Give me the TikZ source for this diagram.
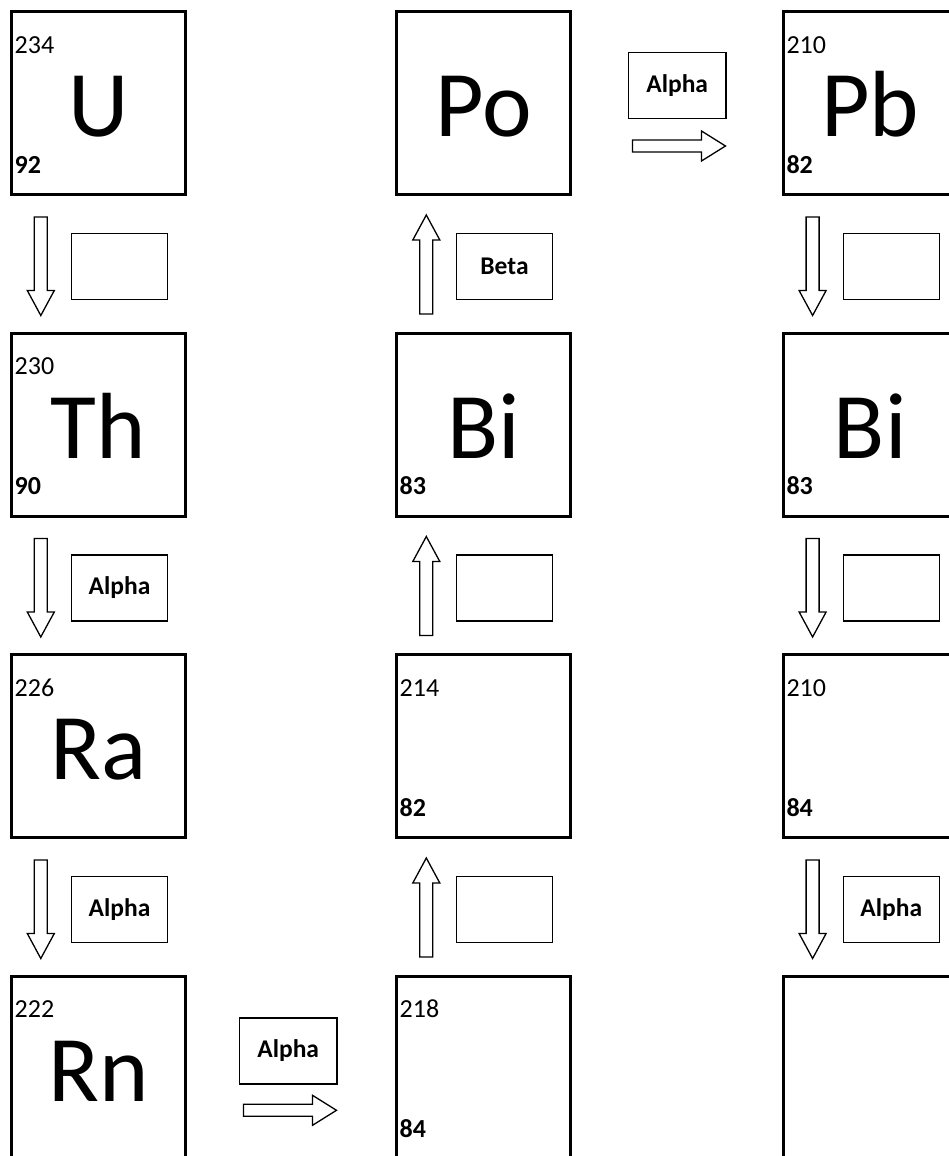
\documentclass[tikz,border=0pt]{standalone}
\usepackage{fontspec}
\setmainfont{Carlito}
\usetikzlibrary{calc}
\newcommand\dnarr[1]{\draw[blk] ($(#1.south west)+(22.8,22.5)$) -- ++(13,0) -- ++(0,73.5) -- ++(7,0) -- ++(-13.5,25) -- ++(-13.5,-25) -- ++(7,0) -- cycle;}
\newcommand\uparr[1]{\draw[blk] ($(#1.south west)+(23.3,119.5)$) -- ++(13,0) -- ++(0,-74) -- ++(7,0) -- ++(-13.5,-25) -- ++(-13.5,25) -- ++(7,0) -- cycle;}
\newcommand\rtarr[3]{\draw[blk] ($(#1.north east)+(#2,#3)$) -- ++(69,0) -- ++(0,-9) -- ++(24,15) -- ++(-24,15) -- ++(0,-9) -- ++(-69,0) -- cycle;}
\begin{document}
\begin{tikzpicture}[x=1pt,y=-1pt,
 elem/.style={draw, line width=3pt, minimum width=174pt, minimum height=183pt, inner sep=0pt, outer sep=0pt, anchor=north west},
 sym/.style={anchor=base, font=\fontsize{94}{100}\selectfont, inner sep=0pt},
 mass/.style={anchor=base west, font=\fontsize{26}{30}\selectfont, inner sep=0pt},
 anum/.style={anchor=base west, font=\bfseries\fontsize{26}{30}\selectfont, inner sep=0pt},
 lbl/.style={draw, line width=1.3pt, minimum width=96pt, minimum height=66pt, inner sep=0pt, outer sep=0pt, anchor=north west, font=\bfseries\fontsize{25.5}{30}\selectfont},
 blk/.style={draw, line width=1.3pt, line join=miter}]
\useasboundingbox (0,0) rectangle (949,1156);
\clip (0,0) rectangle (949,1156);
% column 1
\node[elem] (U) at (11.5,11.5) {};
\node[sym] at ($(U.north)+(0,125)$) {U};
\node[mass] at ($(U.north west)+(3,41.5)$) {234};
\node[anum] at ($(U.north west)+(3,161.5)$) {92};
\node[elem] (Th) at (11.5,333) {};
\node[sym] at ($(Th.north)+(0,125)$) {Th};
\node[mass] at ($(Th.north west)+(3,41.5)$) {230};
\node[anum] at ($(Th.north west)+(3,161.5)$) {90};
\node[elem] (Ra) at (11.5,654.5) {};
\node[sym] at ($(Ra.north)+(0,125)$) {Ra};
\node[mass] at ($(Ra.north west)+(3,41.5)$) {226};
\node[elem] (Rn) at (11.5,976) {};
\node[sym] at ($(Rn.north)+(0,125)$) {Rn};
\node[mass] at ($(Rn.north west)+(3,41.5)$) {222};
% column 2
\node[elem] (Po) at (396.5,11.5) {};
\node[sym] at ($(Po.north)+(0,125)$) {Po};
\node[elem] (BiA) at (396.5,333) {};
\node[sym] at ($(BiA.north)+(0,125)$) {Bi};
\node[anum] at ($(BiA.north west)+(3,161.5)$) {83};
\node[elem] (PbA) at (396.5,654.5) {};
\node[mass] at ($(PbA.north west)+(3,41.5)$) {214};
\node[anum] at ($(PbA.north west)+(3,161.5)$) {82};
\node[elem] (PoA) at (396.5,976) {};
\node[mass] at ($(PoA.north west)+(3,41.5)$) {218};
\node[anum] at ($(PoA.north west)+(3,161.5)$) {84};
% column 3
\node[elem] (Pb) at (783.3,11.5) {};
\node[sym] at ($(Pb.north)+(0,125)$) {Pb};
\node[mass] at ($(Pb.north west)+(3,41.5)$) {210};
\node[anum] at ($(Pb.north west)+(3,161.5)$) {82};
\node[elem] (BiB) at (783.3,333) {};
\node[sym] at ($(BiB.north)+(0,125)$) {Bi};
\node[anum] at ($(BiB.north west)+(3,161.5)$) {83};
\node[elem] (PoB) at (783.3,654.5) {};
\node[mass] at ($(PoB.north west)+(3,41.5)$) {210};
\node[anum] at ($(PoB.north west)+(3,161.5)$) {84};
\node[elem] (PbB) at (783.3,976) {};
% vertical arrows and label boxes
\dnarr{U}  \node[lbl] (l1) at ($(U.south west)+(60,39)$) {};
\dnarr{Th} \node[lbl] (l2) at ($(Th.south west)+(60,39)$) {Alpha};
\dnarr{Ra} \node[lbl] (l3) at ($(Ra.south west)+(60,39)$) {Alpha};
\uparr{Po}  \node[lbl] (l4) at ($(Po.south west)+(60,39)$) {Beta};
\uparr{BiA} \node[lbl] (l5) at ($(BiA.south west)+(60,39)$) {};
\uparr{PbA} \node[lbl] (l6) at ($(PbA.south west)+(60,39)$) {};
\dnarr{Pb}  \node[lbl] (l7) at ($(Pb.south west)+(60,39)$) {};
\dnarr{BiB} \node[lbl] (l8) at ($(BiB.south west)+(60,39)$) {};
\dnarr{PoB} \node[lbl] (l9) at ($(PoB.south west)+(60,39)$) {Alpha};
% horizontal arrows and label boxes
\node[lbl, minimum width=97.4pt] (h1) at ($(Po.north east)+(58,41)$) {Alpha};
\rtarr{Po}{62}{128.5}
\node[lbl, minimum width=97.4pt] (h2) at ($(Rn.north east)+(54,42)$) {Alpha};
\rtarr{Rn}{58}{128.3}
\end{tikzpicture}
\end{document}
